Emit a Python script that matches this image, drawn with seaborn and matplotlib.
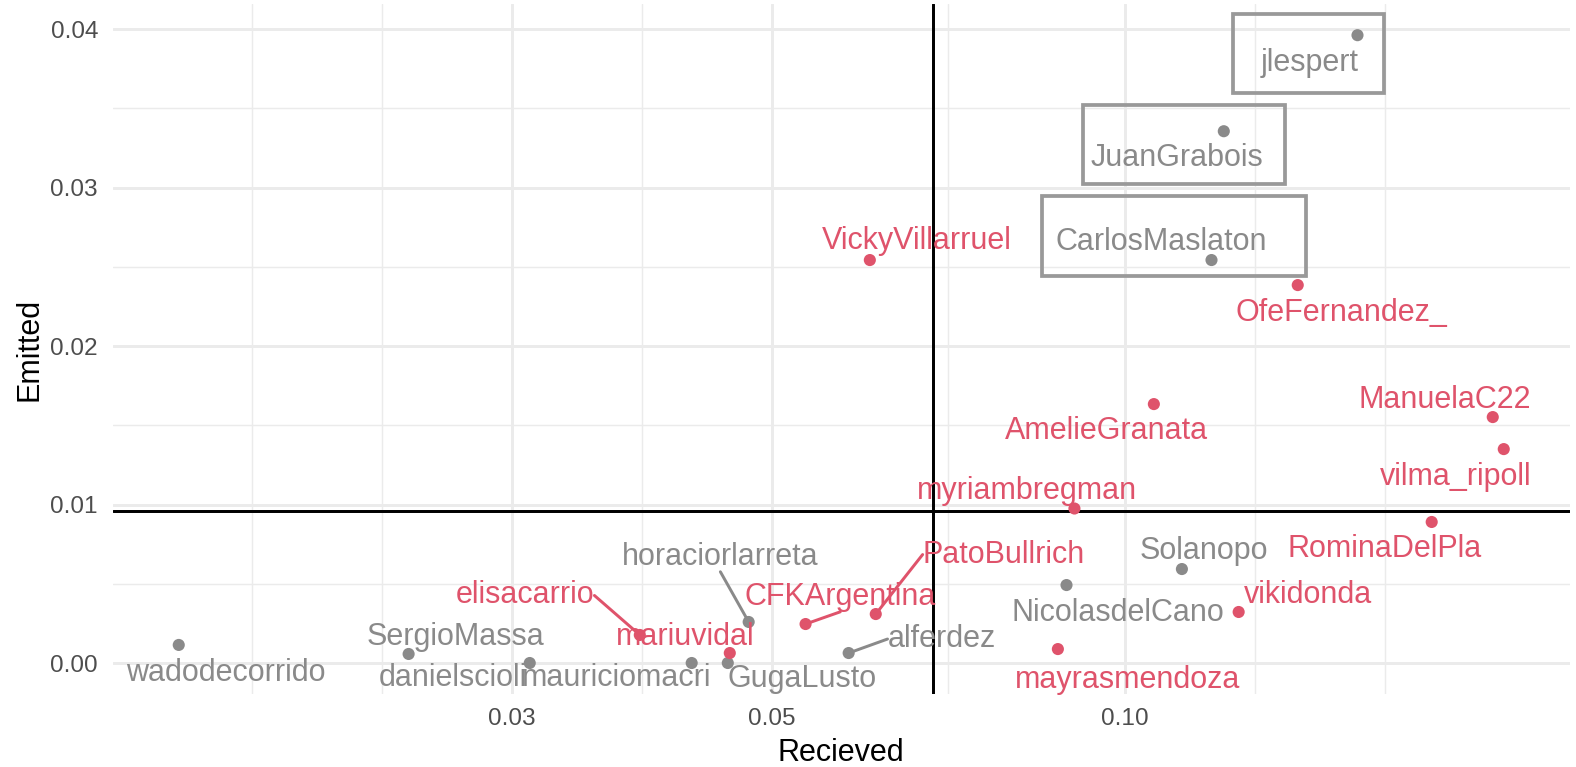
import numpy as np
import pandas as pd
import matplotlib
matplotlib.use("Agg")
import matplotlib.pyplot as plt
from matplotlib.ticker import FixedLocator, NullFormatter, FixedFormatter
from matplotlib.patches import Rectangle
from matplotlib.lines import Line2D
import seaborn as sns

# ---------------- data ----------------
users = ["wadodecorrido", "SergioMassa", "danielscioli", "mauriciomacri", "GugaLusto",
         "mariuvidal", "elisacarrio", "horaciorlarreta", "CFKArgentina", "PatoBullrich",
         "alferdez", "VickyVillarruel", "CarlosMaslaton", "JuanGrabois", "jlespert",
         "OfeFernandez_", "AmelieGranata", "ManuelaC22", "vilma_ripoll", "myriambregman",
         "RominaDelPla", "Solanopo", "NicolasdelCano", "vikidonda", "mayrasmendoza"]
received = [0.01559, 0.02449, 0.03107, 0.04271, 0.04585,
            0.04603, 0.03857, 0.04777, 0.05342, 0.06132,
            0.05814, 0.06061, 0.1186, 0.1215, 0.1580,
            0.1405, 0.1059, 0.2061, 0.2106, 0.0906,
            0.1828, 0.1119, 0.0892, 0.1251, 0.0877]
emitted = [0.00114, 0.00057, 0.0, 0.0, 0.0,
           0.00063, 0.00177, 0.00259, 0.00246, 0.00309,
           0.00063, 0.02543, 0.02543, 0.03356, 0.03962,
           0.02385, 0.01634, 0.01552, 0.0135, 0.00975,
           0.0089, 0.00593, 0.00492, 0.00322, 0.00088]
group = ["M", "M", "M", "M", "M",
         "F", "F", "M", "F", "F",
         "M", "F", "M", "M", "M",
         "F", "F", "F", "F", "F",
         "F", "M", "M", "F", "F"]

# label offsets from the point (pixels at 200 dpi; x right, y up)
label_dx = [47.3, 46.4, -77, -75, 74,
            -44.5, -114.7, -28.3, 34.7, 128,
            93, 47, -50, -47.3, -48,
            43.6, -47.3, -48, -47.7, -47.5,
            -47, 21.7, 51.6, 69, 70]
label_dy = [-24.1, 20.8, -11.5, -11.5, -12.5,
            20, 43, 68.7, 30.7, 63,
            17.5, 22.7, 22, -23, -24.3,
            -24, -23.2, 20.8, -24, 21,
            -23.3, 21.4, -24.2, 20.8, -27.7]
with_segment = ["elisacarrio", "horaciorlarreta", "CFKArgentina", "PatoBullrich", "alferdez"]

# highlighted rectangles
box_xmin = [0.1236, 0.0921, 0.0850]
box_xmax = [0.1663, 0.1369, 0.1427]
box_ymin = [0.03596, 0.0302, 0.02442]
box_ymax = [0.04095, 0.0352, 0.02946]

ref_received = 0.0686
ref_emitted = 0.0096

x_ticks = [0.03, 0.05, 0.10]
x_tick_labels = ["0.03", "0.05", "0.10"]
y_ticks = [0.00, 0.01, 0.02, 0.03, 0.04]
y_tick_labels = ["0.00", "0.01", "0.02", "0.03", "0.04"]

palette = {"F": "#DF536B", "M": "#8A8A8A"}

# ---------------- figure ----------------
sns.set_theme(style="white")
plt.rcParams['font.family'] = ['Liberation Sans', 'DejaVu Sans']

DPI = 200
W, H = 1576, 767
fig = plt.figure(figsize=(W / DPI, H / DPI), dpi=DPI)
pl, pr, pt, pb = 112.5, 1570, 3.8, 694.4
ax = fig.add_axes([pl / W, 1 - pb / H, (pr - pl) / W, (pb - pt) / H])

df = pd.DataFrame({"user": users, "received": received, "emitted": emitted, "group": group})

sns.scatterplot(data=df, x="received", y="emitted", hue="group", palette=palette,
                s=19, edgecolor="none", linewidth=0, legend=False, ax=ax, zorder=4)
ax.set_xscale("log")

# limits: ggplot-like 5% expansion (log space for x)
lx = np.log10(df["received"])
xr = lx.max() - lx.min()
ax.set_xlim(10 ** (lx.min() - 0.05 * xr), 10 ** (lx.max() + 0.05 * xr))
yr = df["emitted"].max() - df["emitted"].min()
ax.set_ylim(df["emitted"].min() - 0.05 * yr, df["emitted"].max() + 0.05 * yr)

# ticks
ax.xaxis.set_major_locator(FixedLocator(x_ticks))
ax.xaxis.set_major_formatter(FixedFormatter(x_tick_labels))
lb = np.log10(x_ticks)
d = lb[1] - lb[0]
ext = np.concatenate([[lb[0] - d], lb, [lb[-1] + d]])
xminor = np.sort(np.concatenate([ext, (ext[:-1] + ext[1:]) / 2]))
ax.xaxis.set_minor_locator(FixedLocator(10 ** xminor))
ax.xaxis.set_minor_formatter(NullFormatter())
ax.yaxis.set_major_locator(FixedLocator(y_ticks))
ax.yaxis.set_major_formatter(FixedFormatter(y_tick_labels))
ystep = y_ticks[1] - y_ticks[0]
ax.yaxis.set_minor_locator(FixedLocator(np.arange(y_ticks[0] - ystep / 2, y_ticks[-1] + ystep, ystep / 2)))

ax.grid(which="major", color="#EBEBEB", linewidth=1.07, zorder=0)
ax.grid(which="minor", color="#EBEBEB", linewidth=0.53, zorder=0)
ax.set_axisbelow(True)
for s in ax.spines.values():
    s.set_visible(False)
ax.tick_params(which="both", length=0)
ax.tick_params(axis="x", which="major", pad=4.95, labelsize=8.8, labelcolor="#4D4D4D")
ax.tick_params(axis="y", which="major", pad=5.2, labelsize=8.8, labelcolor="#4D4D4D")
ax.set_xlabel("Recieved", fontsize=11, color="black", labelpad=3.0)
ax.set_ylabel("Emitted", fontsize=11, color="black", labelpad=2.2)

# reference lines
ax.axvline(ref_received, color="black", linewidth=1.07, zorder=3)
ax.axhline(ref_emitted, color="black", linewidth=1.07, zorder=3)

# rectangles
for x0, x1, y0, y1 in zip(box_xmin, box_xmax, box_ymin, box_ymax):
    ax.add_patch(Rectangle((x0, y0), x1 - x0, y1 - y0, fill=False,
                           edgecolor="#999999", linewidth=1.35, zorder=5))

# labels
k = 72.0 / DPI
texts = []
for u, x, y, g, dx, dy in zip(users, received, emitted, group, label_dx, label_dy):
    t = ax.annotate(u, xy=(x, y), xytext=(dx * k, dy * k), textcoords="offset points",
                    ha="center", va="center_baseline", fontsize=11, color=palette[g], zorder=6)
    texts.append(t)

fig.canvas.draw()
renderer = fig.canvas.get_renderer()
inv = ax.transData.inverted()
for t, u, x, y, g in zip(texts, users, received, emitted, group):
    if u not in with_segment:
        continue
    bb = t.get_window_extent(renderer)
    px, py = ax.transData.transform((x, y))
    if px < bb.x0:
        ex, ey = bb.x0, (bb.y0 + bb.y1) / 2
    elif px > bb.x1:
        ex, ey = bb.x1, (bb.y0 + bb.y1) / 2
    else:
        ex = (bb.x0 + bb.x1) / 2
        ey = bb.y0 if py < bb.y0 else bb.y1
    p0 = inv.transform((px, py))
    p1 = inv.transform((ex, ey))
    ax.add_line(Line2D([p0[0], p1[0]], [p0[1], p1[1]], color=palette[g],
                       linewidth=1.07, zorder=5))

fig.savefig("out.png", dpi=DPI, facecolor="white")
